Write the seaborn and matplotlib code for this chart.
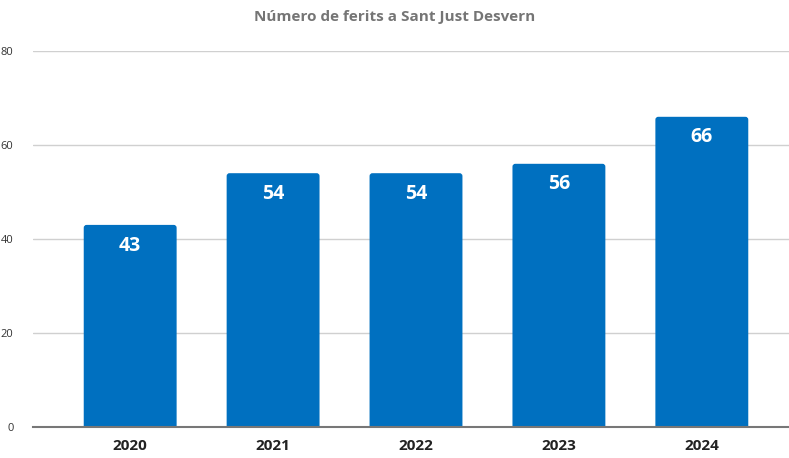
import matplotlib
matplotlib.use("Agg")
import matplotlib.pyplot as plt
from matplotlib.patches import FancyBboxPatch
import seaborn as sns
import pandas as pd

years = ["2020", "2021", "2022", "2023", "2024"]
ferits = [43, 54, 54, 56, 66]
yticks = [0, 20, 40, 60, 80]

sns.set_style("white")
plt.rcParams['font.family'] = ['Open Sans', 'DejaVu Sans']

W, H = 789, 458
fig = plt.figure(figsize=(W/100, H/100), dpi=100)
ax = fig.add_axes([33/W, (H-427)/H, (W-33)/W, (427-51)/H])

df = pd.DataFrame({"any": years, "ferits": ferits})
sns.barplot(data=df, x="any", y="ferits", color="#0070C0", saturation=1,
            width=0.65, ax=ax, zorder=3, linewidth=0)

ax.set_xlim(-0.68, 4.61)
ax.set_ylim(0, 80)

# rounded top corners (slight); bottom extends below axis and is clipped
for p in list(ax.patches):
    x, y, w, h = p.get_x(), p.get_y(), p.get_width(), p.get_height()
    p.set_visible(False)
    rp = FancyBboxPatch((x, y - 3), w, h + 3,
                        boxstyle="round,pad=0,rounding_size=0.02",
                        mutation_aspect=80 / 5.29 * (756 / 376),
                        facecolor="#0070C0", edgecolor="none", zorder=3,
                        clip_on=True)
    ax.add_patch(rp)

ax.set_yticks(yticks)
ax.set_yticklabels([str(t) for t in yticks], fontsize=8, color="#333333")
ax.yaxis.grid(True, color="#d0d0d0", linewidth=1, zorder=0)
ax.set_axisbelow(True)
for s in ["top", "right", "left"]:
    ax.spines[s].set_visible(False)
ax.spines["bottom"].set_color("#777777")
ax.spines["bottom"].set_linewidth(1.5)
ax.spines["bottom"].set_zorder(4)
ax.tick_params(axis="y", length=0, pad=14)
ax.tick_params(axis="x", length=0, pad=9)
for lbl in ax.get_xticklabels():
    lbl.set_fontweight("bold")
    lbl.set_fontsize(11)
    lbl.set_color("#222222")
ax.set_xlabel("")
ax.set_ylabel("")

for i, v in enumerate(ferits):
    ax.text(i, v - 4.4, str(v), ha="center", va="center", color="white",
            fontsize=14, fontweight="bold", zorder=5)

fig.text(0.5, 1 - 17/H, "Número de ferits a Sant Just Desvern", ha="center",
         va="center", fontsize=11, fontweight="bold", color="#757575")

fig.savefig("out.png", dpi=100)
